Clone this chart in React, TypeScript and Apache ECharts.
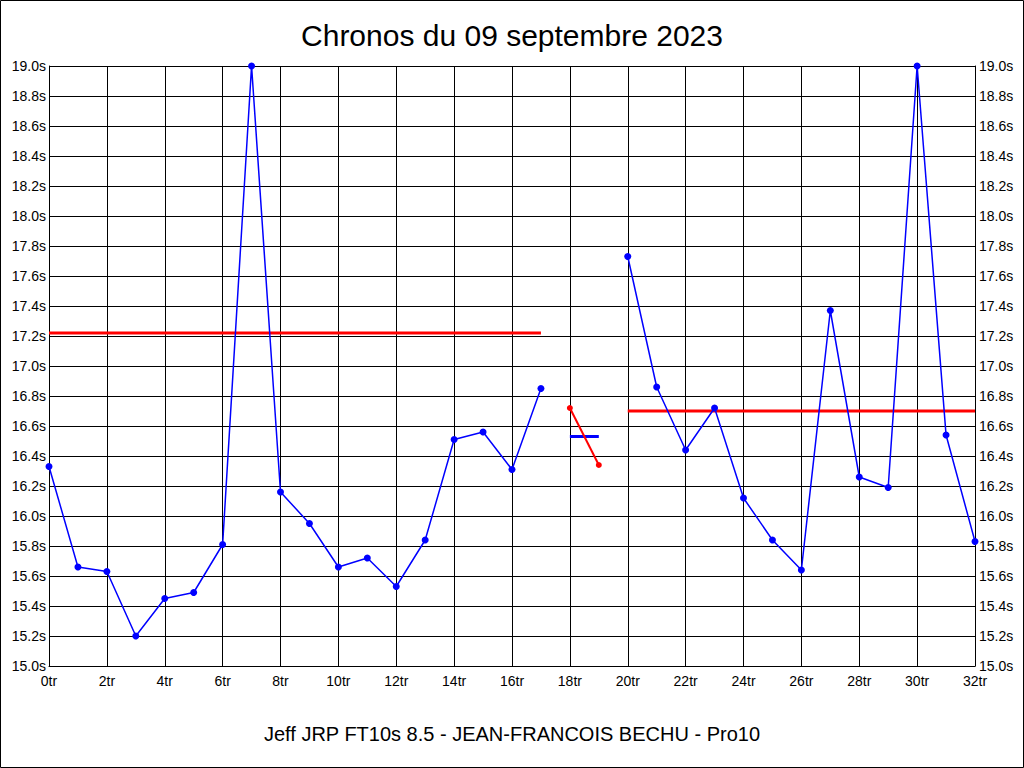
import React, { useEffect, useRef } from "react";
import * as echarts from "echarts";

const TITLE = "Chronos du 09 septembre 2023";
const SUBTITLE = "Jeff JRP FT10s 8.5 - JEAN-FRANCOIS BECHU - Pro10";

// lap index and time (s), first run
const lapsA: number[] = [0, 1, 2, 3, 4, 5, 6, 7, 8, 9, 10, 11, 12, 13, 14, 15, 16, 17];
const timesA: number[] = [16.33, 15.66, 15.63, 15.2, 15.45, 15.49, 15.81, 19.0, 16.16, 15.95, 15.66, 15.72, 15.53, 15.84, 16.51, 16.56, 16.31, 16.85];

// second run
const lapsB: number[] = [20, 21, 22, 23, 24, 25, 26, 27, 28, 29, 30, 31, 32];
const timesB: number[] = [17.73, 16.86, 16.44, 16.72, 16.12, 15.84, 15.64, 17.37, 16.26, 16.19, 19.0, 16.54, 15.83];

// short red run
const lapsC: number[] = [18, 19];
const timesC: number[] = [16.72, 16.34];
const avgC = 16.53;

// average lines
const avgA = 17.22;
const avgB = 16.7;

const FONT = "'Liberation Sans', Arial, Helvetica, sans-serif";

export default function App() {
  const ref = useRef<HTMLDivElement>(null);
  useEffect(() => {
    if (!ref.current) return;
    const chart = echarts.init(ref.current, undefined, { renderer: "svg" });
    const pair = (xs: number[], ys: number[]) => xs.map((x, i) => [x, ys[i]]);
    const yLabel = (v: number) => v.toFixed(1) + "s";
    chart.setOption({
      animation: false,
      backgroundColor: "#fff",
      textStyle: { fontFamily: FONT },
      title: [
        {
          text: TITLE,
          left: "center",
          top: 15,
          textStyle: { fontSize: 30, fontWeight: "normal", color: "#000", fontFamily: FONT },
        },
        {
          text: SUBTITLE,
          left: "center",
          top: 719,
          textStyle: { fontSize: 20, fontWeight: "normal", color: "#000", fontFamily: FONT },
        },
      ],
      grid: { left: 49, right: 49, top: 66, bottom: 102, containLabel: false },
      xAxis: {
        type: "value",
        min: 0,
        max: 32,
        interval: 2,
        axisLine: { show: true, lineStyle: { color: "#000", width: 1 } },
        axisTick: { show: false },
        axisLabel: { formatter: (v: number) => v + "tr", color: "#000", fontSize: 14, margin: 8, fontFamily: FONT },
        splitLine: { show: true, lineStyle: { color: "#000", width: 1 } },
      },
      yAxis: [
        {
          type: "value",
          min: 15,
          max: 19,
          interval: 0.2,
          position: "left",
          axisLine: { show: true, lineStyle: { color: "#000", width: 1 } },
          axisTick: { show: false },
          axisLabel: { formatter: yLabel, color: "#000", fontSize: 14, margin: 3, fontFamily: FONT },
          splitLine: { show: true, lineStyle: { color: "#000", width: 1 } },
        },
        {
          type: "value",
          min: 15,
          max: 19,
          interval: 0.2,
          position: "right",
          axisLine: { show: true, lineStyle: { color: "#000", width: 1 } },
          axisTick: { show: false },
          axisLabel: { formatter: yLabel, color: "#000", fontSize: 14, margin: 4, fontFamily: FONT },
          splitLine: { show: false },
        },
      ],
      series: [
        {
          type: "line",
          data: [[0, avgA], [17, avgA]],
          symbol: "none",
          lineStyle: { color: "#ff0000", width: 3 },
          z: 3,
        },
        {
          type: "line",
          data: [[20, avgB], [32, avgB]],
          symbol: "none",
          lineStyle: { color: "#ff0000", width: 3 },
          z: 3,
        },
        {
          type: "line",
          data: [[18, avgC], [19, avgC]],
          symbol: "none",
          lineStyle: { color: "#0000ff", width: 3 },
          z: 3,
        },
        {
          type: "line",
          data: pair(lapsC, timesC),
          symbol: "circle",
          symbolSize: 6,
          itemStyle: { color: "#ff0000" },
          lineStyle: { color: "#ff0000", width: 2 },
          z: 4,
        },
        {
          type: "line",
          data: pair(lapsA, timesA),
          symbol: "circle",
          symbolSize: 7,
          itemStyle: { color: "#0000ff" },
          lineStyle: { color: "#0000ff", width: 1.5 },
          z: 5,
        },
        {
          type: "line",
          data: pair(lapsB, timesB),
          symbol: "circle",
          symbolSize: 7,
          itemStyle: { color: "#0000ff" },
          lineStyle: { color: "#0000ff", width: 1.5 },
          z: 5,
        },
      ],
      graphic: [
        {
          type: "rect",
          shape: { x: 0.5, y: 0.5, width: 1023, height: 767 },
          style: { fill: "none", stroke: "#000", lineWidth: 1 },
          silent: true,
        },
      ],
    });
    return () => chart.dispose();
  }, []);
  return (
    <div
      ref={ref}
      style={{ position: "fixed", left: 0, top: 0, width: 1024, height: 768 }}
    />
  );
}
